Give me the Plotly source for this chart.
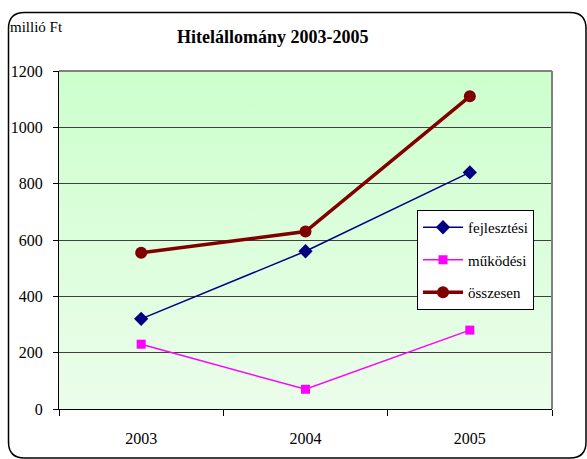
import plotly.graph_objects as go
import base64

years = ["2003", "2004", "2005"]
fejlesztesi = [320, 560, 840]
mukodesi = [230, 70, 280]
osszesen = [555, 630, 1110]
y_ticks = [0, 200, 400, 600, 800, 1000, 1200]

W, H = 587, 459
L, R, T, B = 59, 35, 71, 50
PW, PH = W - L - R, H - T - B

def px(x):
    return (x - L) / PW

def py(y):
    return (H - B - y) / PH

FONT = "'Liberation Serif', 'Times New Roman', Times, serif"

fig = go.Figure()
fig.add_trace(go.Scatter(x=years, y=fejlesztesi, name="fejlesztési", mode="lines+markers",
                         line=dict(color="#000080", width=1.5),
                         marker=dict(symbol="diamond", size=11, color="#000080"),
                         legendgroup="a"))
fig.add_trace(go.Scatter(x=years, y=mukodesi, name="működési", mode="lines+markers",
                         line=dict(color="#ff00ff", width=1.5),
                         marker=dict(symbol="square", size=9, color="#ff00ff"),
                         legendgroup="b"))
fig.add_trace(go.Scatter(x=years, y=osszesen, name="összesen", mode="lines+markers",
                         line=dict(color="#800000", width=3.5),
                         marker=dict(symbol="circle", size=12, color="#800000"),
                         legendgroup="c"))

svg = ('<svg xmlns="http://www.w3.org/2000/svg" width="100" height="100" preserveAspectRatio="none">'
       '<defs><linearGradient id="g" x1="0" y1="0" x2="0" y2="1">'
       '<stop offset="0" stop-color="#ccffcc"/><stop offset="1" stop-color="#ebfdeb"/>'
       '</linearGradient></defs><rect width="100" height="100" fill="url(#g)"/></svg>')
uri = "data:image/svg+xml;base64," + base64.b64encode(svg.encode()).decode()

# outer rounded border
x0, y0, x1, y1, r = 8.5, 12.5, 586, 458, 16
pts = [
    ("M", [(x0, y0 + r)]),
    ("Q", [(x0, y0), (x0 + r, y0)]),
    ("L", [(x1 - r, y0)]),
    ("Q", [(x1, y0), (x1, y0 + r)]),
    ("L", [(x1, y1 - r)]),
    ("Q", [(x1, y1), (x1 - r, y1)]),
    ("L", [(x0 + r, y1)]),
    ("Q", [(x0, y1), (x0, y1 - r)]),
]
path = ""
for cmd, ps in pts:
    path += cmd + " " + " ".join(f"{px(a):.5f},{py(b):.5f}" for a, b in ps) + " "
path += "Z"

fig.update_layout(
    width=W, height=H,
    margin=dict(l=L, r=R, t=T, b=B),
    paper_bgcolor="white",
    plot_bgcolor="rgba(0,0,0,0)",
    font=dict(family=FONT, size=15, color="black"),
    title=dict(text="<b>Hitelállomány 2003-2005</b>", x=px(288), xanchor="center",
               y=1 - 37 / H, yanchor="middle", font=dict(family=FONT, size=18)),
    images=[dict(source=uri, xref="paper", yref="paper", x=0, y=1, sizex=1, sizey=1,
                 sizing="stretch", layer="below")],
    shapes=[
        dict(type="path", path=path, xref="paper", yref="paper",
             line=dict(color="black", width=1.5), fillcolor="rgba(0,0,0,0)"),
        dict(type="line", xref="paper", yref="paper", x0=0, x1=1, y0=1, y1=1,
             line=dict(color="#808080", width=2)),
        dict(type="line", xref="paper", yref="paper", x0=1, x1=1, y0=0, y1=1,
             line=dict(color="#808080", width=2)),
    ],
    annotations=[dict(text="millió Ft", xref="paper", yref="paper", x=px(8), y=py(27),
                      xanchor="left", yanchor="middle", showarrow=False,
                      font=dict(family=FONT, size=15))],
    legend=dict(x=px(417), y=py(210), xanchor="left", yanchor="top",
                bgcolor="white", bordercolor="black", borderwidth=1,
                font=dict(family=FONT, size=15), tracegroupgap=10, itemwidth=40),
    showlegend=True,
)
fig.update_xaxes(type="category", range=[-0.5, 2.5], showline=True, linecolor="black",
                 linewidth=1, ticks="outside", tickson="boundaries", ticklen=6,
                 tickcolor="black", showgrid=False, tickfont=dict(family=FONT, size=16),
                 ticklabelstandoff=15)
fig.update_yaxes(range=[0, 1200], tickvals=y_ticks, showline=True, linecolor="black",
                 linewidth=1, ticks="outside", ticklen=5, tickcolor="black",
                 showgrid=True, gridcolor="#404040", gridwidth=1, zeroline=False,
                 tickfont=dict(family=FONT, size=16), ticklabelstandoff=7)

fig.write_html("out.html", config={"displayModeBar": False},
               post_script="document.body.style.margin='0';document.body.style.overflow='hidden';")
